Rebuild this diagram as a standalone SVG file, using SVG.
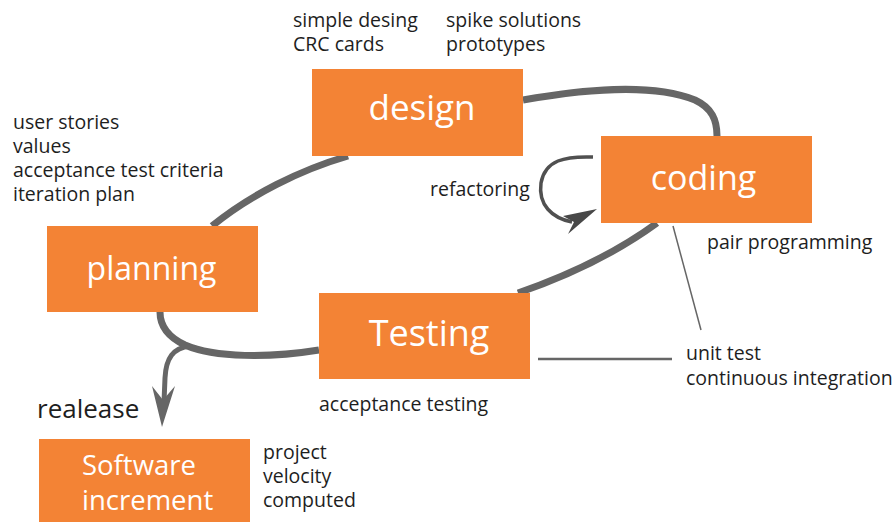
<svg xmlns="http://www.w3.org/2000/svg" width="894" height="522" viewBox="0 0 894 522">
  <style>
    .box { fill: #F38335; }
    .label { font-family: "Open Sans", "Noto Sans", sans-serif; fill: #ffffff; text-anchor: middle; }
    .note { font-family: "Open Sans", "Noto Sans", sans-serif; font-size: 19.5px; fill: #1e1e1e; }
    .flow { fill: none; stroke: #666666; stroke-width: 7; stroke-linecap: butt; }
    .thin { fill: none; stroke: #666666; }
  </style>
  <rect width="894" height="522" fill="#ffffff"/>

  <!-- cycle connectors -->
  <g id="connectors">
    <path class="flow" d="M212,226 C250,195 300,170 348,156"/>
    <path class="flow" d="M523,100 C580,90 650,82 695,100 C712,108 717,120 717,136"/>
    <path class="flow" d="M657,223 C620,250 570,275 518,293"/>
    <path class="flow" d="M319,350 C270,358 215,358 185,345 C168,337 160,325 160,312"/>
    <!-- release branch -->
    <path class="flow" style="stroke-width:5" d="M190,346 C173,348 166,358 165,378 L164,402"/>
    <polygon fill="#666666" points="162,427 152,386 163,400 175,386"/>
    <!-- refactoring loop -->
    <path fill="none" stroke="#505050" stroke-width="3.5" d="M593,157 C565,156 545,160 541,183 C538,205 552,218 572,222"/>
    <polygon fill="#484848" points="597,209 563,216 574,222 568,234"/>
    <!-- annotation leaders -->
    <path class="thin" stroke-width="1.5" d="M673,226 L701,330"/>
    <path class="thin" stroke="#777777" stroke-width="2.5" d="M538,359 L672,359"/>
  </g>

  <g id="design">
    <rect class="box" x="312" y="69" width="211" height="87"/>
    <text class="label" x="422" y="120" font-size="35">design</text>
  </g>
  <g id="coding">
    <rect class="box" x="601" y="136" width="211" height="87"/>
    <text class="label" x="703.5" y="190" font-size="34">coding</text>
  </g>
  <g id="planning">
    <rect class="box" x="47" y="226" width="211" height="86"/>
    <text class="label" x="151.5" y="280" font-size="32">planning</text>
  </g>
  <g id="testing">
    <rect class="box" x="319" y="293" width="211" height="86"/>
    <text class="label" x="429" y="346" font-size="36">Testing</text>
  </g>
  <g id="software-increment">
    <rect class="box" x="39" y="439" width="211" height="86"/>
    <text class="label" font-size="27.5" style="text-anchor:start"><tspan x="82" y="475">Software</tspan><tspan x="82" y="510">increment</tspan></text>
  </g>

  <!-- notes -->
  <g id="notes">
    <text class="note"><tspan x="293" y="27">simple desing</tspan><tspan x="293" dy="24">CRC cards</tspan></text>
    <text class="note"><tspan x="446" y="27">spike solutions</tspan><tspan x="446" dy="24">prototypes</tspan></text>
    <text class="note"><tspan x="13" y="129">user stories</tspan><tspan x="13" dy="24">values</tspan><tspan x="13" dy="24">acceptance test criteria</tspan><tspan x="13" dy="24">iteration plan</tspan></text>
    <text class="note" x="430" y="196">refactoring</text>
    <text class="note" x="707" y="249">pair programming</text>
    <text class="note"><tspan x="686" y="360">unit test</tspan><tspan x="686" dy="25">continuous integration</tspan></text>
    <text class="note" x="319" y="411">acceptance testing</text>
    <text class="note" x="37" y="418" style="font-size:26px">realease</text>
    <text class="note"><tspan x="263" y="459">project</tspan><tspan x="263" dy="24">velocity</tspan><tspan x="263" dy="24">computed</tspan></text>
  </g>
</svg>
